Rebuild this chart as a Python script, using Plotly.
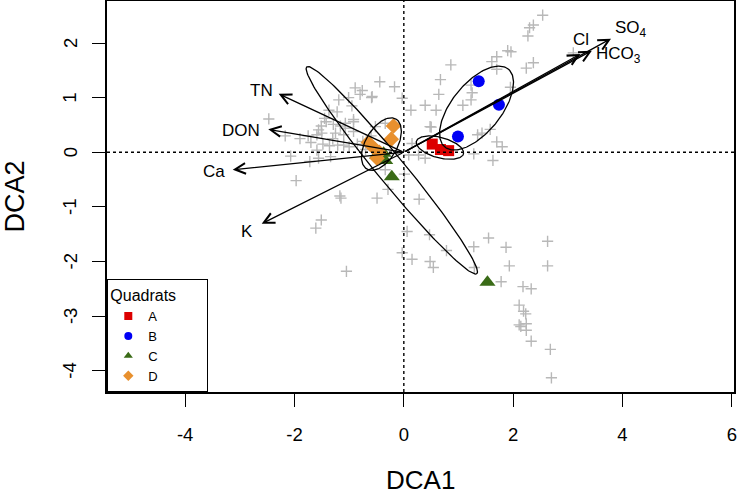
import numpy as np
import plotly.graph_objects as go

# ---------------- data ----------------
# grey site scores ("+")
site_x = [2.54, 2.37, 2.30, 2.27, 1.90, 1.96, 1.70, 1.61, 1.70, 2.37, 2.24, 0.86, 0.67, 1.23, 1.25,
          0.64, 1.23, 1.08, 0.39, 0.13, 0.59, 1.95, 3.10, 0.50, 1.35, 1.43, 1.58, 1.70, 1.80, -0.03,
          1.28, 0.27, 0.39, 1.63, 0.15, 0.48, 0.09,
          0.01, 0.28, 0.06, 0.47, -0.03, 0.15, 0.48, 0.54, 0.78, 1.28, 1.29, 1.55, 1.87, 1.93, 2.63,
          2.63, 1.78, 2.18, 2.33, 2.11, 2.19, 2.23, 2.11, 2.24, 2.14, 2.24, 2.33, 2.68, 2.70,
          -1.70, -1.48, -1.36, -1.21, -1.10, -1.59, -2.07, -1.72, -1.56, -1.34, -1.97, -1.17, -1.15,
          -0.49, -0.29, -0.34, -1.51, -1.61, -1.05,
          -0.44, -0.17, -0.89, -0.76, -0.80, -0.59, -1.01, -1.19, -0.95, -1.37, -1.22, -0.92, -1.42,
          -1.29, -1.16, -1.51, -1.56, -1.50, -1.59, -2.47, -2.17, -1.07, -0.92, -0.52, -0.34, -1.10,
          -0.58, -1.07, -0.92, -1.75, -1.90, -1.30, -0.75, -0.60, -1.45, -1.25, -0.85, -0.70, -1.00]
site_y = [2.51, 2.33, 2.28, 2.13, 1.86, 1.84, 1.75, 1.66, 1.52, 1.64, 1.54, 1.60, 1.33, 1.23, 1.09,
          1.06, 0.96, 0.86, 0.86, 0.77, 0.77, 1.19, 1.82, 0.46, 0.32, 0.35, 0.42, 0.19, 0.10, 0.99,
          -0.03, -0.05, -0.11, -0.15, 0.16, 0.47, -0.05,
          -0.40, -0.86, -1.45, -1.51, -1.84, -1.96, -2.00, -2.11, -1.80, -1.73, -2.11, -1.57, -1.74,
          -2.08, -1.63, -2.08, -2.37, -2.46, -2.50, -2.80, -2.91, -2.96, -3.16, -3.14, -3.19, -3.26,
          -3.46, -3.61, -4.13,
          0.18, 0.15, 0.12, 0.13, 0.13, 0.04, -0.07, -0.17, -0.11, -0.08, -0.52, -0.80, -0.84,
          -0.84, -0.68, -0.32, -1.24, -1.39, -2.18,
          1.29, 1.20, 1.18, 1.13, 1.06, 1.00, 1.00, 0.96, 0.85, 0.77, 0.74, 0.60, 0.56,
          0.51, 0.48, 0.48, 0.41, 0.35, 0.32, 0.61, 0.30, 0.53, 0.56, 0.47, 0.53, 0.32,
          1.02, 0.44, 0.38, 0.30, 0.25, 0.25, 0.20, 0.30, 0.62, 0.35, 0.15, 0.05, 0.10]

# quadrat sample scores
quadrat_names = ["A", "B", "C", "D"]
quad_A_x = [0.52, 0.67, 0.82]
quad_A_y = [0.15, 0.05, 0.03]
quad_B_x = [1.37, 1.74, 0.99]
quad_B_y = [1.30, 0.87, 0.29]
quad_C_x = [-0.49, -0.37, -0.34, -0.22, 1.53]
quad_C_y = [-0.05, -0.02, -0.15, -0.45, -2.38]
quad_D_x = [-0.19, -0.23, -0.65, -0.52, -0.45, -0.49]
quad_D_y = [0.48, 0.24, 0.18, 0.05, 0.00, -0.11]

# dispersion ellipses (centre, semi-axes, rotation in degrees) per quadrat
ell_cx = [0.66, 1.33, -0.22, -0.41]
ell_cy = [0.085, 0.81, -0.33, 0.15]
ell_a = [0.446, 0.92, 2.45, 0.53]
ell_b = [0.187, 0.45, 0.25, 0.29]
ell_angle = [-15, 51, -50.6, 60]

# environmental vectors
env_names = ["TN", "DON", "Ca", "K", "Cl", "SO<sub>4</sub>", "HCO<sub>3</sub>"]
env_x = [-2.29, -2.48, -3.13, -2.60, 3.23, 3.79, 3.44]
env_y = [1.07, 0.42, -0.32, -1.31, 1.80, 2.08, 1.86]

x_ticks = [-4, -2, 0, 2, 4, 6]
x_tick_labels = ["-4", "-2", "0", "2", "4", "6"]
y_ticks = [-4, -3, -2, -1, 0, 1, 2]
y_tick_labels = ["-4", "-3", "-2", "-1", "0", "1", "2"]

# ---------------- styling ----------------
FONT = "Liberation Sans, Arial, sans-serif"
quad_style = {
    "A": dict(symbol="square", color="#dc0000", size=11),
    "B": dict(symbol="circle", color="#0000f5", size=12),
    "C": dict(symbol="triangle-up", color="#3a6b17", size=14),
    "D": dict(symbol="diamond", color="#e8902e", size=12),
}
label_pos = {  # xanchor, xshift, yshift (pixels) for vector labels
    "TN": ("right", -4, 3), "DON": ("right", -6, -1), "Ca": ("right", -6, -2),
    "K": ("right", -7, -8), "Cl": ("center", 1, 14),
    "SO<sub>4</sub>": ("left", 2, 10), "HCO<sub>3</sub>": ("left", 2, -4),
}

fig = go.Figure()

fig.add_trace(go.Scatter(
    x=site_x, y=site_y, mode="markers", showlegend=False, hoverinfo="skip",
    marker=dict(symbol="cross-thin", size=8, line=dict(color="#b8b8b8", width=1.4)),
))

quad_x = [quad_A_x, quad_B_x, quad_C_x, quad_D_x]
quad_y = [quad_A_y, quad_B_y, quad_C_y, quad_D_y]
for name, qx, qy in zip(quadrat_names, quad_x, quad_y):
    st = quad_style[name]
    fig.add_trace(go.Scatter(
        x=qx, y=qy, mode="markers", name=name, showlegend=False,
        marker=dict(symbol=st["symbol"], color=st["color"], size=st["size"]),
    ))

# ellipses
t = np.linspace(0, 2 * np.pi, 200)
for cx, cy, a, b, ang in zip(ell_cx, ell_cy, ell_a, ell_b, ell_angle):
    th = np.deg2rad(ang)
    ex = cx + a * np.cos(t) * np.cos(th) - b * np.sin(t) * np.sin(th)
    ey = cy + a * np.cos(t) * np.sin(th) + b * np.sin(t) * np.cos(th)
    fig.add_trace(go.Scatter(x=ex, y=ey, mode="lines", showlegend=False, hoverinfo="skip",
                             line=dict(color="black", width=1.3)))

# legend entries (small symbols)
for name in quadrat_names:
    st = quad_style[name]
    fig.add_trace(go.Scatter(
        x=[None], y=[None], mode="markers", name=name + "\u00a0" * 12,
        marker=dict(symbol=st["symbol"], color=st["color"], size=8),
    ))

# vectors
for name, vx, vy in zip(env_names, env_x, env_y):
    fig.add_annotation(x=vx, y=vy, ax=0, ay=0, xref="x", yref="y", axref="x", ayref="y",
                       text="", showarrow=True, arrowhead=5, arrowsize=1.6, arrowwidth=1.3,
                       arrowcolor="black")
    xa, xs, ys = label_pos[name]
    fig.add_annotation(x=vx, y=vy, xref="x", yref="y", text=name, showarrow=False,
                       xanchor=xa, yanchor="middle", xshift=xs, yshift=ys,
                       font=dict(family=FONT, size=17, color="black"))

# dotted zero lines
fig.add_shape(type="line", xref="x", yref="paper", x0=0, x1=0, y0=0, y1=1,
              line=dict(color="black", width=1.4, dash="dot"))
fig.add_shape(type="line", xref="paper", yref="y", x0=0, x1=1, y0=0, y1=0,
              line=dict(color="black", width=1.4, dash="dot"))

# rotated y tick labels (R style, reading bottom to top)
for v, lab in zip(y_ticks, y_tick_labels):
    fig.add_annotation(x=0, y=v, xref="paper", yref="y", text=lab, showarrow=False,
                       xanchor="center", yanchor="middle", xshift=-37, textangle=-90,
                       font=dict(family=FONT, size=18.5, color="black"))

# axis titles
fig.add_annotation(x=0.5, y=0, xref="paper", yref="paper", text="DCA1", showarrow=False,
                   yanchor="middle", yshift=-88, font=dict(family=FONT, size=26, color="black"))
fig.add_annotation(x=0, y=0.5, xref="paper", yref="paper", text="DCA2", showarrow=False,
                   xanchor="center", xshift=-93, textangle=-90,
                   font=dict(family=FONT, size=27, color="black"))

axis_common = dict(showgrid=False, zeroline=False, showline=True, mirror=True, automargin=False,
                   linecolor="black", linewidth=1.5, ticks="outside", ticklen=13,
                   tickwidth=1.3, tickcolor="black",
                   tickfont=dict(family=FONT, size=18.5, color="black"))
fig.update_xaxes(range=[-5.43, 6.04], tickvals=x_ticks, ticktext=x_tick_labels,
                 ticklabelstandoff=12, **axis_common)
fig.update_yaxes(range=[-4.39, 2.77], tickvals=y_ticks, showticklabels=False, **axis_common)

fig.update_layout(
    width=737, height=495,
    margin=dict(l=107, r=3, t=1, b=103, autoexpand=False),
    plot_bgcolor="white", paper_bgcolor="white",
    font=dict(family=FONT, color="black"),
    legend=dict(x=0, y=0, xanchor="left", yanchor="bottom", xref="paper", yref="paper",
                bgcolor="white", bordercolor="black", borderwidth=1.3,
                title=dict(text="Quadrats", font=dict(family=FONT, size=16)),
                font=dict(family=FONT, size=13), tracegroupgap=0, itemwidth=30),
)

fig.write_html("out.html", config={"displayModeBar": False},
               post_script="document.body.style.margin='0';document.body.style.padding='0';")
